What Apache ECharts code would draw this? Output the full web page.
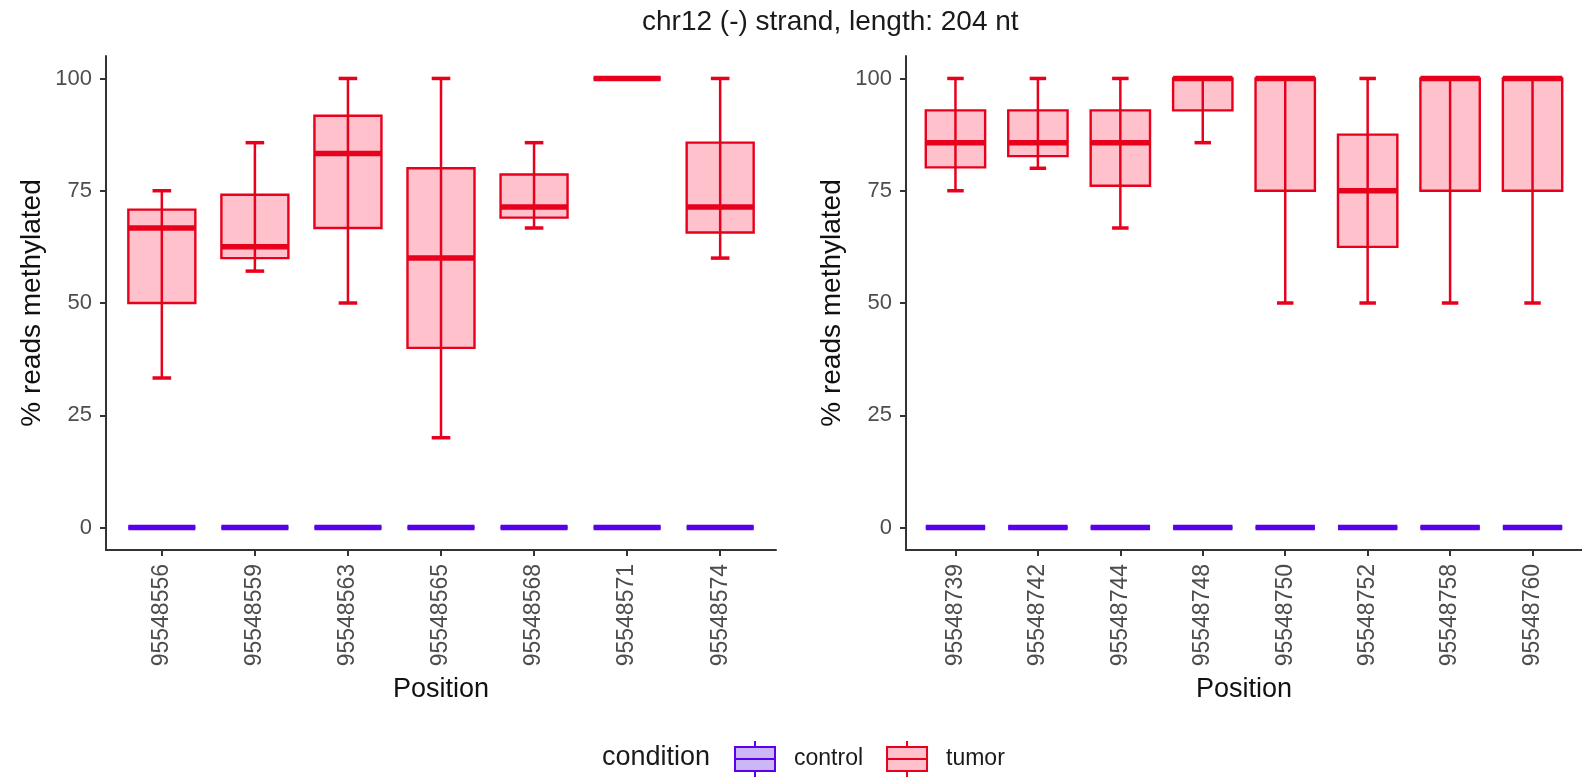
<!DOCTYPE html>
<html>
<head>
<meta charset="utf-8">
<script src="https://cdn.jsdelivr.net/npm/echarts@6/dist/echarts.min.js"></script>
<style>
  html, body { margin: 0; padding: 0; background: #fff; }
  #box-chart { width: 1582px; height: 779px; }
</style>
</head>
<body>
<div id="box-chart"></div>
<script>
// positions on each side of the strand
const leftPositions = ["95548556", "95548559", "95548563", "95548565", "95548568", "95548571", "95548574"];
const rightPositions = ["95548739", "95548742", "95548744", "95548748", "95548750", "95548752", "95548758", "95548760"];

// [min, q1, median, q3, max] in % reads methylated
const leftTumor = [
  [33.3, 50, 66.7, 70.8, 75],
  [57.1, 60, 62.5, 74.1, 85.7],
  [50, 66.7, 83.3, 91.7, 100],
  [20, 40, 60, 80, 100],
  [66.7, 69, 71.4, 78.6, 85.7],
  [100, 100, 100, 100, 100],
  [60, 65.7, 71.4, 85.7, 100],
];
const leftControl = [
  [0, 0, 0, 0, 0],
  [0, 0, 0, 0, 0],
  [0, 0, 0, 0, 0],
  [0, 0, 0, 0, 0],
  [0, 0, 0, 0, 0],
  [0, 0, 0, 0, 0],
  [0, 0, 0, 0, 0],
];
const rightTumor = [
  [75, 80.2, 85.7, 92.9, 100],
  [80, 82.7, 85.7, 92.9, 100],
  [66.7, 76.1, 85.7, 92.9, 100],
  [85.7, 92.9, 100, 100, 100],
  [50, 75, 100, 100, 100],
  [50, 62.5, 75, 87.5, 100],
  [50, 75, 100, 100, 100],
  [50, 75, 100, 100, 100],
];
const rightControl = [
  [0, 0, 0, 0, 0],
  [0, 0, 0, 0, 0],
  [0, 0, 0, 0, 0],
  [0, 0, 0, 0, 0],
  [0, 0, 0, 0, 0],
  [0, 0, 0, 0, 0],
  [0, 0, 0, 0, 0],
  [0, 0, 0, 0, 0],
];
const yTicks = [0, 25, 50, 75, 100];

const TUMOR_LINE = "#E8001C";
const TUMOR_FILL = "#FFC2CC";
const CONTROL_LINE = "#5A00EE";
const CONTROL_FILL = "#CBB6F6";
const FONT = "Liberation Sans, Arial, sans-serif";

// ggplot-like box: filled box, errorbar through it with caps, thick median
function boxRenderer(stroke, fill) {
  return function (params, api) {
    const x = api.value(0);
    const lo = api.coord([x, api.value(1)]);
    const q1 = api.coord([x, api.value(2)]);
    const med = api.coord([x, api.value(3)]);
    const q3 = api.coord([x, api.value(4)]);
    const hi = api.coord([x, api.value(5)]);
    const half = api.size([0.72, 0])[0] / 2;
    const cap = api.size([0.2, 0])[0] / 2;
    const cx = lo[0];
    return {
      type: "group",
      children: [
        {
          type: "rect",
          shape: { x: cx - half, y: q3[1], width: half * 2, height: q1[1] - q3[1] },
          style: { fill: fill, stroke: stroke, lineWidth: 2.4 },
        },
        {
          type: "line",
          shape: { x1: cx, y1: hi[1], x2: cx, y2: lo[1] },
          style: { stroke: stroke, lineWidth: 2.5 },
        },
        {
          type: "line",
          shape: { x1: cx - cap, y1: hi[1], x2: cx + cap, y2: hi[1] },
          style: { stroke: stroke, lineWidth: 3.5 },
        },
        {
          type: "line",
          shape: { x1: cx - cap, y1: lo[1], x2: cx + cap, y2: lo[1] },
          style: { stroke: stroke, lineWidth: 3.5 },
        },
        {
          type: "line",
          shape: { x1: cx - half, y1: med[1], x2: cx + half, y2: med[1] },
          style: { stroke: stroke, lineWidth: 5.5 },
        },
      ],
    };
  };
}

function toItems(rows) {
  return rows.map((d, i) => [i + 1].concat(d));
}

function makeXAxis(gridIndex, labels) {
  const idx = labels.map((_, i) => i + 1);
  return {
    type: "value",
    gridIndex: gridIndex,
    min: 0.4,
    max: labels.length + 0.6,
    splitLine: { show: false },
    axisLine: { show: true, onZero: false, lineStyle: { color: "#333", width: 2 } },
    axisTick: { show: true, customValues: idx, length: 6, lineStyle: { color: "#333", width: 2 } },
    axisLabel: {
      customValues: idx,
      rotate: 90,
      margin: 14,
      fontSize: 23,
      color: "#4D4D4D",
      fontFamily: FONT,
      formatter: (v) => labels[Math.round(v) - 1] || "",
    },
    name: "Position",
    nameLocation: "middle",
    nameGap: 126,
    nameTextStyle: { fontSize: 27, color: "#111", fontFamily: FONT },
  };
}

function makeYAxis(gridIndex) {
  return {
    type: "value",
    gridIndex: gridIndex,
    min: -5,
    max: 105,
    splitLine: { show: false },
    axisLine: { show: true, onZero: false, lineStyle: { color: "#333", width: 2 } },
    axisTick: { show: true, customValues: yTicks, length: 6, lineStyle: { color: "#333", width: 2 } },
    axisLabel: {
      customValues: yTicks,
      margin: 14,
      fontSize: 22,
      color: "#4D4D4D",
      fontFamily: FONT,
    },
    name: "% reads methylated",
    nameLocation: "middle",
    nameGap: 60,
    nameTextStyle: { fontSize: 28, color: "#111", fontFamily: FONT },
  };
}

function makeSeries(name, axisIndex, rows, stroke, fill, z) {
  return {
    name: name,
    type: "custom",
    xAxisIndex: axisIndex,
    yAxisIndex: axisIndex,
    z: z,
    renderItem: boxRenderer(stroke, fill),
    encode: { x: 0, y: [1, 2, 3, 4, 5] },
    itemStyle: { color: stroke },
    data: toItems(rows),
  };
}

const legendIcon = "path://M0,6H40V30H0Z M0,18H40 M20,0V6 M20,30V36";

const chart = echarts.init(document.getElementById("box-chart"));
const option = {
  animation: false,
  backgroundColor: "#fff",
  title: [
    {
      text: "chr12 (-) strand, length: 204 nt",
      left: 642,
      top: 8,
      padding: 0,
      textStyle: { fontSize: 28, fontWeight: "normal", color: "#1A1A1A", fontFamily: FONT },
    },
    {
      text: "condition",
      left: 602,
      top: 744,
      padding: 0,
      textStyle: { fontSize: 27, fontWeight: "normal", color: "#1A1A1A", fontFamily: FONT },
    },
  ],
  legend: {
    left: 734,
    top: 740,
    padding: 0,
    itemWidth: 40,
    itemHeight: 36,
    itemGap: 23,
    selectedMode: false,
    textStyle: { fontSize: 23, color: "#1A1A1A", fontFamily: FONT, padding: [0, 0, 0, 14] },
    data: [
      { name: "control", icon: legendIcon, itemStyle: { color: CONTROL_FILL, borderColor: CONTROL_LINE, borderWidth: 2 } },
      { name: "tumor", icon: legendIcon, itemStyle: { color: TUMOR_FILL, borderColor: TUMOR_LINE, borderWidth: 2 } },
    ],
  },
  grid: [
    { left: 106, top: 56, width: 670, height: 494 },
    { left: 906, top: 56, width: 676, height: 494 },
  ],
  xAxis: [makeXAxis(0, leftPositions), makeXAxis(1, rightPositions)],
  yAxis: [makeYAxis(0), makeYAxis(1)],
  series: [
    makeSeries("control", 0, leftControl, CONTROL_LINE, CONTROL_FILL, 2),
    makeSeries("tumor", 0, leftTumor, TUMOR_LINE, TUMOR_FILL, 3),
    makeSeries("control", 1, rightControl, CONTROL_LINE, CONTROL_FILL, 2),
    makeSeries("tumor", 1, rightTumor, TUMOR_LINE, TUMOR_FILL, 3),
  ],
};
chart.setOption(option);
</script>
</body>
</html>
